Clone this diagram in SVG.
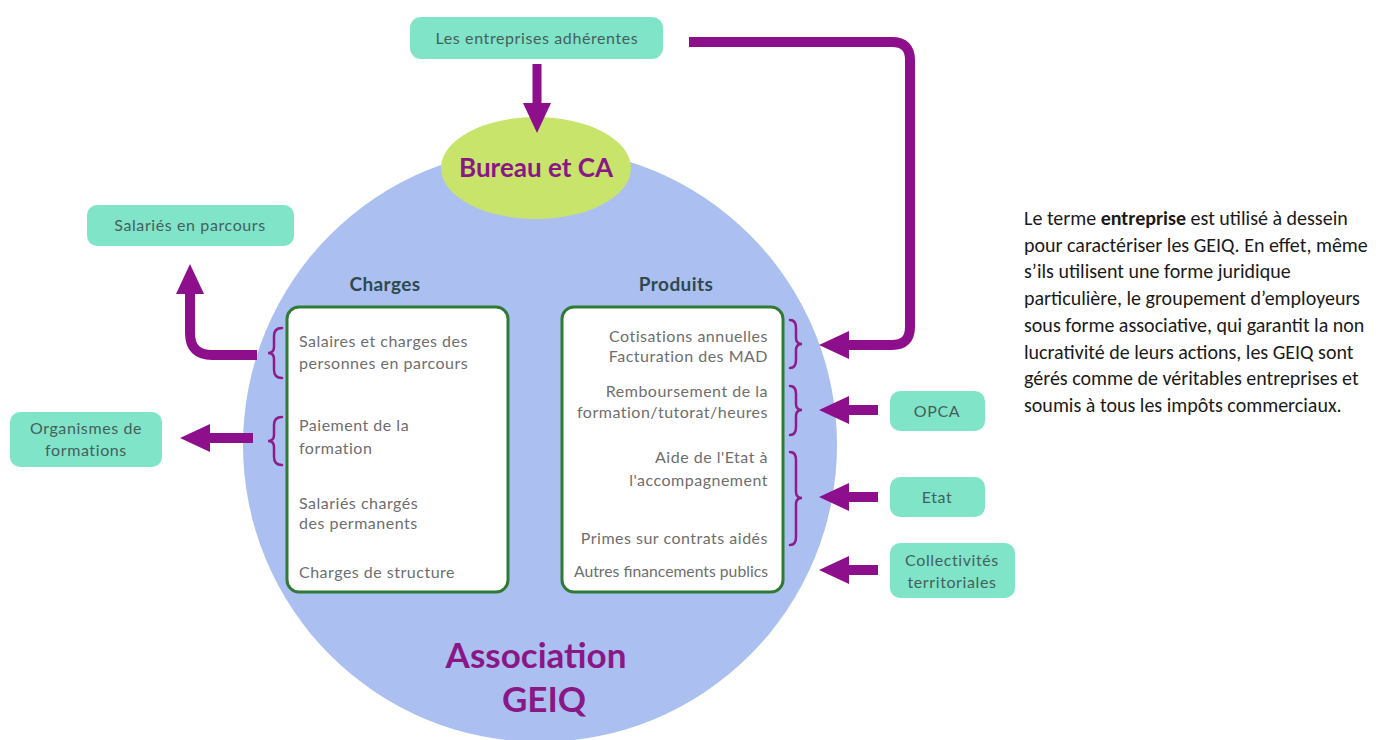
<svg xmlns="http://www.w3.org/2000/svg" width="1379" height="740" viewBox="0 0 1379 740">
<style>
.box{fill:#80e4c9;}
.btxt{font-family:Lato,"Noto Sans",sans-serif;font-size:16px;letter-spacing:0.6px;fill:#45605a;text-anchor:middle;}
.ltxt{font-family:Lato,"Noto Sans",sans-serif;font-size:16px;letter-spacing:0.5px;fill:#6e6e6e;}
.rtxt{font-family:Lato,"Noto Sans",sans-serif;font-size:16px;letter-spacing:0.5px;fill:#6e6e6e;text-anchor:end;}
.title{font-family:Lato,"Noto Sans",sans-serif;font-size:19px;letter-spacing:0.4px;font-weight:bold;fill:#2f4a4e;text-anchor:middle;}
.big{font-family:Lato,"DejaVu Sans",sans-serif;font-weight:bold;fill:#8a1786;text-anchor:middle;}
.panel{fill:#ffffff;stroke:#2f7a35;stroke-width:3;}
.conn{fill:none;stroke:#8e0f8c;stroke-width:10;}
.brace{fill:none;stroke:#8e1a8c;stroke-width:2.5;stroke-linecap:round;}
.para{font-family:Carlito,Lato,"Liberation Sans",sans-serif;font-size:20px;fill:#1a1a1a;}
</style>
<defs>
<marker id="ah" viewBox="0 0 30 28" refX="1" refY="14" markerWidth="30" markerHeight="28" markerUnits="userSpaceOnUse" orient="auto">
<path d="M0,0 L30,14 L0,28 z" fill="#8e0f8c"/>
</marker>
</defs>
<rect width="1379" height="740" fill="#ffffff"/>

<g id="association">
<circle cx="540" cy="445" r="297" fill="#abc0f0"/>
<text class="big" x="536" y="668" font-size="35">Association</text>
<text class="big" x="544" y="712" font-size="35">GEIQ</text>
</g>

<g id="bureau">
<ellipse cx="536" cy="168" rx="95" ry="51" fill="#c9e46b"/>
<text class="big" x="536" y="177" font-size="26">Bureau et CA</text>
</g>

<g id="entreprises">
<rect class="box" x="410" y="17" width="253" height="42" rx="11"/>
<text class="btxt" x="537" y="44">Les entreprises adhérentes</text>
</g>

<g id="salaries">
<rect class="box" x="87" y="205" width="207" height="41" rx="10"/>
<text class="btxt" x="190" y="231">Salariés en parcours</text>
</g>

<g id="organismes">
<rect class="box" x="10" y="412" width="152" height="55" rx="10"/>
<text class="btxt" x="86" y="434">Organismes de</text>
<text class="btxt" x="86" y="456">formations</text>
</g>

<g id="opca">
<rect class="box" x="890" y="391" width="95" height="40" rx="10"/>
<text class="btxt" x="937" y="417">OPCA</text>
</g>

<g id="etat">
<rect class="box" x="890" y="477" width="95" height="40" rx="10"/>
<text class="btxt" x="937" y="503">Etat</text>
</g>

<g id="collectivites">
<rect class="box" x="890" y="543" width="125" height="55" rx="10"/>
<text class="btxt" x="952" y="566">Collectivités</text>
<text class="btxt" x="952" y="588">territoriales</text>
</g>

<g id="charges">
<text class="title" x="385" y="291">Charges</text>
<rect class="panel" x="287" y="307" width="221" height="285" rx="12"/>
<text class="ltxt" x="299" y="347">Salaires et charges des</text>
<text class="ltxt" x="299" y="369">personnes en parcours</text>
<text class="ltxt" x="299" y="431">Paiement de la</text>
<text class="ltxt" x="299" y="454">formation</text>
<text class="ltxt" x="299" y="509">Salariés chargés</text>
<text class="ltxt" x="299" y="529">des permanents</text>
<text class="ltxt" x="299" y="578">Charges de structure</text>
<path class="brace" d="M282,328 Q274,328 274,336 V347 Q274,353 268,353 Q274,353 274,359 V370 Q274,378 282,378"/>
<path class="brace" d="M282,417 Q274,417 274,425 V435 Q274,441 268,441 Q274,441 274,447 V457 Q274,465 282,465"/>
</g>

<g id="produits">
<text class="title" x="676" y="291">Produits</text>
<rect class="panel" x="562" y="307" width="221" height="285" rx="12"/>
<text class="rtxt" x="768" y="342">Cotisations annuelles</text>
<text class="rtxt" x="768" y="362">Facturation des MAD</text>
<text class="rtxt" x="768" y="397">Remboursement de la</text>
<text class="rtxt" x="768" y="418">formation/tutorat/heures</text>
<text class="rtxt" x="768" y="463">Aide de l'Etat à</text>
<text class="rtxt" x="768" y="486">l'accompagnement</text>
<text class="rtxt" x="768" y="544">Primes sur contrats aidés</text>
<text class="rtxt" x="768" y="577" style="letter-spacing:0px" textLength="194" lengthAdjust="spacingAndGlyphs">Autres financements publics</text>
<path class="brace" d="M790,320 Q796,320 796,328 V338 Q796,344 802,344 Q796,344 796,350 V360 Q796,368 790,368"/>
<path class="brace" d="M790,386 Q796,386 796,394 V404 Q796,410 802,410 Q796,410 796,416 V427 Q796,435 790,435"/>
<path class="brace" d="M790,452 Q796,452 796,460 V492 Q796,498 802,498 Q796,498 796,504 V537 Q796,545 790,545"/>
</g>

<g id="connectors">
<path class="conn" style="stroke-width:9" d="M537,64 V104" marker-end="url(#ah)"/>
<path class="conn" d="M689,42 H892 Q910,42 910,60 V327 Q910,345 892,345 H848" marker-end="url(#ah)"/>
<path class="conn" d="M878,410 H848" marker-end="url(#ah)"/>
<path class="conn" d="M878,497 H848" marker-end="url(#ah)"/>
<path class="conn" d="M878,570 H848" marker-end="url(#ah)"/>
<path class="conn" d="M257,355 H212 Q190,355 190,333 V293" marker-end="url(#ah)"/>
<path class="conn" d="M253,438 H209" marker-end="url(#ah)"/>
</g>

<g id="paragraph">
<text class="para" x="1024" y="225">Le terme <tspan font-weight="bold">entreprise</tspan> est utilisé à dessein</text>
<text class="para" x="1024" y="251.7">pour caractériser les GEIQ. En effet, même</text>
<text class="para" x="1024" y="278.4">s’ils utilisent une forme juridique</text>
<text class="para" x="1024" y="305.1">particulière, le groupement d’employeurs</text>
<text class="para" x="1024" y="331.8">sous forme associative, qui garantit la non</text>
<text class="para" x="1024" y="358.5">lucrativité de leurs actions, les GEIQ sont</text>
<text class="para" x="1024" y="385.2">gérés comme de véritables entreprises et</text>
<text class="para" x="1024" y="411.9">soumis à tous les impôts commerciaux.</text>
</g>
</svg>
